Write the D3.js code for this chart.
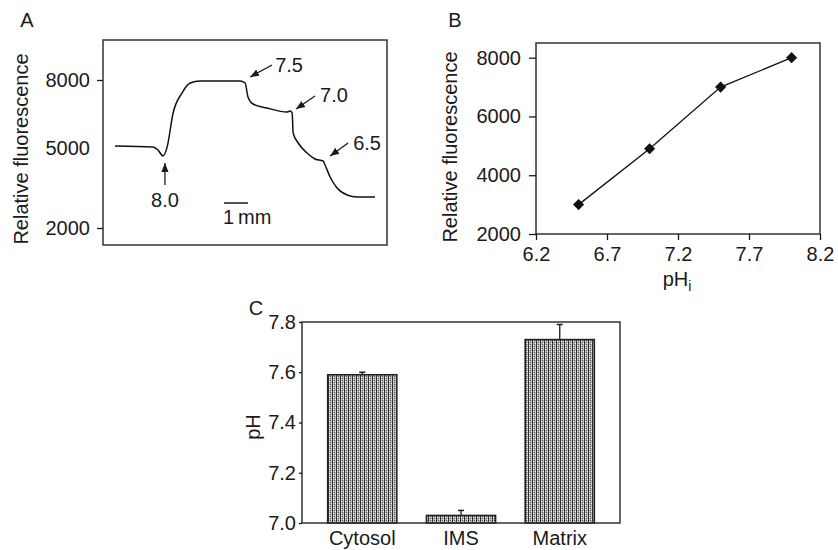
<!DOCTYPE html>
<html><head><meta charset="utf-8">
<script src="https://cdn.jsdelivr.net/npm/d3@7"></script>
<style>
body{margin:0;background:#fff;}
svg text{font-family:"Liberation Sans",Arial,Helvetica,sans-serif;fill:#1a1a1a;}
</style></head>
<body><svg id="c" width="838" height="550"></svg>
<script>
// ---------- Panel A data ----------
const traceT = [0.5, 2.08, 2.29, 2.5, 2.67, 2.92, 3.29, 3.63, 4.04, 5.71, 5.92, 6.04, 6.25, 6.83, 7.67, 7.79, 7.88, 7.92, 8.13, 8.5, 8.83, 9.17, 9.25, 9.46, 9.75, 10.17, 10.58, 11.33];
const traceF = [5090, 5045, 4925, 4700, 5040, 6544, 7426, 7868, 7956, 7956, 7868, 7250, 6941, 6765, 6588, 6632, 6544, 5662, 5221, 4812, 4588, 4512, 4362, 3912, 3500, 3238, 3162, 3162];
const aTicks = [2000, 5000, 8000];
const arrowLabels = ["8.0", "7.5", "7.0", "6.5"];
const arrowTipT = [2.58, 6.125, 8.04, 9.46];
const arrowTipF = [4437, 8132, 6721, 4700];
const arrowTailT = [2.58, 7.04, 8.83, 10.21];
const arrowTailF = [3612, 8662, 7294, 5221];
const labelT = [2.58, 7.17, 9.04, 10.42];
const labelF = [3050, 8662, 7338, 5221];
const scaleBarT = [5.04, 6.04];
const scaleBarF = 2937;
const scaleBarLabelF = 2412;

// ---------- Panel B data ----------
const phB = [6.5, 7.0, 7.5, 8.0];
const fluorB = [3000, 4900, 7000, 8000];
const bXTicks = [6.2, 6.7, 7.2, 7.7, 8.2];
const bYTicks = [2000, 4000, 6000, 8000];

// ---------- Panel C data ----------
const compartments = ["Cytosol", "IMS", "Matrix"];
const phC = [7.59, 7.03, 7.73];
const phErr = [0.01, 0.02, 0.06];
const cTicks = [7.0, 7.2, 7.4, 7.6, 7.8];

const svg = d3.select("#c");
const ink = "#1a1a1a";
const FS = 20;

// pattern
const defs = svg.append("defs");
const pat = defs.append("pattern").attr("id","stip").attr("width",4).attr("height",4).attr("patternUnits","userSpaceOnUse");
pat.append("rect").attr("width",4).attr("height",4).attr("fill","#bdbdbd");
pat.append("rect").attr("x",0).attr("y",0).attr("width",1).attr("height",4).attr("fill","#2e2e2e");
pat.append("rect").attr("x",2).attr("y",0).attr("width",1).attr("height",1).attr("fill","#4a4a4a");
pat.append("rect").attr("x",2).attr("y",2).attr("width",1).attr("height",1).attr("fill","#555");
pat.append("rect").attr("x",1).attr("y",1).attr("width",1).attr("height",1).attr("fill","#e8e8e8");
pat.append("rect").attr("x",3).attr("y",3).attr("width",1).attr("height",1).attr("fill","#e8e8e8");
const mk = defs.append("marker").attr("id","arr").attr("viewBox","0 0 10 10").attr("refX",10).attr("refY",5)
  .attr("markerWidth",9).attr("markerHeight",9).attr("markerUnits","userSpaceOnUse").attr("orient","auto");
mk.append("path").attr("d","M0,1 L10,5 L0,9 Z").attr("fill",ink);

function styleAxis(g){
  g.select(".domain").remove();
  g.selectAll(".tick line").attr("stroke",ink).attr("stroke-width",1.3);
  g.selectAll(".tick text").attr("font-size",FS).attr("fill",ink).attr("font-family","Liberation Sans, Arial, sans-serif");
}

// ================= Panel A =================
const xA = d3.scaleLinear().domain([0, 11.83]).range([103, 387]);
const yA = d3.scaleLinear().domain([2000, 5000, 8000]).range([228, 148, 80]);
const gA = svg.append("g");
gA.append("rect").attr("x",103).attr("y",40).attr("width",284).attr("height",205)
  .attr("fill","none").attr("stroke","#333").attr("stroke-width",1.5);
const axA = gA.append("g").attr("transform","translate(103,0)")
  .call(d3.axisLeft(yA).tickValues(aTicks).tickSize(6).tickPadding(7).tickFormat(d3.format("d")));
styleAxis(axA);
axA.selectAll(".tick").filter(d => d === 5000).select("line").remove();
gA.append("path").datum(traceT.map((t,i)=>[t,traceF[i]]))
  .attr("d", d3.line().x(d=>xA(d[0])).y(d=>yA(d[1])).curve(d3.curveMonotoneX))
  .attr("fill","none").attr("stroke","#111").attr("stroke-width",1.5);
arrowLabels.forEach((lab,i)=>{
  gA.append("line").attr("x1",xA(arrowTailT[i])).attr("y1",yA(arrowTailF[i]))
    .attr("x2",xA(arrowTipT[i])).attr("y2",yA(arrowTipF[i]))
    .attr("stroke",ink).attr("stroke-width",1.3).attr("marker-end","url(#arr)");
  gA.append("text").attr("x",xA(labelT[i])).attr("y",yA(labelF[i])).attr("dy","0.35em")
    .attr("text-anchor", i===0 ? "middle" : "start").attr("font-size",FS).text(lab);
});
gA.append("line").attr("x1",xA(scaleBarT[0])).attr("x2",xA(scaleBarT[1]))
  .attr("y1",yA(scaleBarF)).attr("y2",yA(scaleBarF)).attr("stroke",ink).attr("stroke-width",1.5);
gA.append("text").attr("x",xA(scaleBarT[0])-1).attr("y",yA(scaleBarLabelF)).attr("dy","0.35em")
  .attr("font-size",FS).text("1\u2009mm");
gA.append("text").attr("transform","translate(28,149) rotate(-90)").attr("text-anchor","middle")
  .attr("font-size",FS).text("Relative fluorescence");
gA.append("text").attr("x",27).attr("y",27).attr("text-anchor","middle").attr("font-size",FS).text("A");

// ================= Panel B =================
const xB = d3.scaleLinear().domain([6.2, 8.2]).range([536, 820]);
const yB = d3.scaleLinear().domain([2000, 8500]).range([234, 43]);
const gB = svg.append("g");
gB.append("rect").attr("x",536).attr("y",43).attr("width",284).attr("height",191)
  .attr("fill","none").attr("stroke","#333").attr("stroke-width",1.5);
const axBy = gB.append("g").attr("transform","translate(536,0)")
  .call(d3.axisLeft(yB).tickValues(bYTicks).tickSize(7).tickPadding(8).tickFormat(d3.format("d")));
styleAxis(axBy);
const axBx = gB.append("g").attr("transform","translate(0,234)")
  .call(d3.axisBottom(xB).tickValues(bXTicks).tickSize(6).tickPadding(7).tickFormat(d3.format(".1f")));
styleAxis(axBx);
gB.append("path").datum(phB.map((p,i)=>[p,fluorB[i]]))
  .attr("d", d3.line().x(d=>xB(d[0])).y(d=>yB(d[1])))
  .attr("fill","none").attr("stroke","#111").attr("stroke-width",1.3);
gB.selectAll(".pt").data(phB.map((p,i)=>[p,fluorB[i]])).join("path").attr("class","pt")
  .attr("transform", d=>`translate(${xB(d[0])},${yB(d[1])}) rotate(45)`)
  .attr("d", d3.symbol().type(d3.symbolSquare).size(62)).attr("fill","#111");
gB.append("text").attr("transform","translate(457,147) rotate(-90)").attr("text-anchor","middle")
  .attr("font-size",FS).text("Relative fluorescence");
const phl = gB.append("text").attr("x",677).attr("y",286).attr("text-anchor","middle").attr("font-size",FS);
phl.append("tspan").text("pH");
phl.append("tspan").attr("dy",5).attr("font-size",14).text("i");
gB.append("text").attr("x",455).attr("y",27).attr("text-anchor","middle").attr("font-size",FS).text("B");

// ================= Panel C =================
const xC = d3.scaleBand().domain(compartments).range([302, 620]).paddingInner(0.3).paddingOuter(0.26);
const yC = d3.scaleLinear().domain([7.0, 7.8]).range([523, 322]);
const gC = svg.append("g");
gC.selectAll(".bar").data(compartments).join("rect").attr("class","bar")
  .attr("x", d=>xC(d)).attr("width", xC.bandwidth())
  .attr("y", (d,i)=>yC(phC[i])).attr("height",(d,i)=>yC(7.0)-yC(phC[i]))
  .attr("fill","url(#stip)").attr("stroke","#222").attr("stroke-width",1.6);
compartments.forEach((c,i)=>{
  const cx = xC(c)+xC.bandwidth()/2;
  gC.append("line").attr("x1",cx).attr("x2",cx).attr("y1",yC(phC[i])).attr("y2",yC(phC[i]+phErr[i]))
    .attr("stroke",ink).attr("stroke-width",1.3);
  gC.append("line").attr("x1",cx-3).attr("x2",cx+3).attr("y1",yC(phC[i]+phErr[i])).attr("y2",yC(phC[i]+phErr[i]))
    .attr("stroke",ink).attr("stroke-width",1.5);
});
gC.append("rect").attr("x",302).attr("y",322).attr("width",318).attr("height",201)
  .attr("fill","none").attr("stroke","#333").attr("stroke-width",1.5);
const axCy = gC.append("g").attr("transform","translate(302,0)")
  .call(d3.axisLeft(yC).tickValues(cTicks).tickSize(3).tickPadding(3).tickFormat(d3.format(".1f")));
styleAxis(axCy);
const axCx = gC.append("g").attr("transform","translate(0,523)")
  .call(d3.axisBottom(xC).tickSize(0).tickPadding(8));
styleAxis(axCx);
gC.append("text").attr("transform","translate(260,427) rotate(-90)").attr("text-anchor","middle")
  .attr("font-size",FS).text("pH");
gC.append("text").attr("x",256).attr("y",315).attr("text-anchor","middle").attr("font-size",FS).text("C");
</script></body></html>
